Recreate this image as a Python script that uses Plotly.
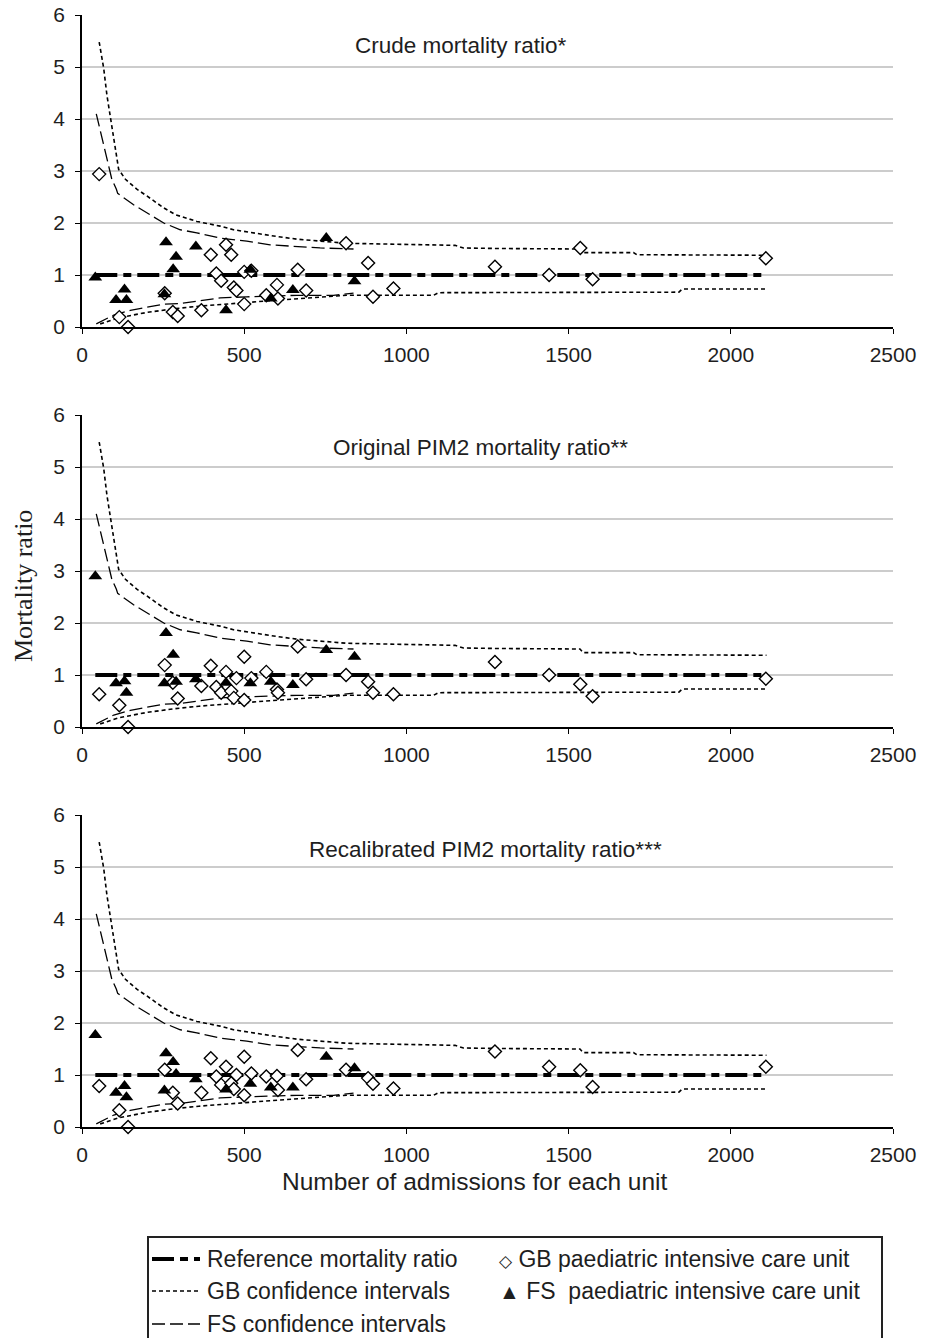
import plotly.graph_objects as go
from plotly.subplots import make_subplots

# ---------------- data ----------------
panel_titles = ["Crude mortality ratio*", "Original PIM2 mortality ratio**",
                "Recalibrated PIM2 mortality ratio***"]

gb_x = [53, 115, 142, 255, 280, 295, 368, 397, 414, 429, 444, 460, 468, 476, 500, 500,
        522, 568, 601, 604, 665, 691, 814, 882, 897, 960, 1273, 1440, 1536, 1574, 2108]
gb_crude = [2.94, 0.19, 0.0, 0.65, 0.29, 0.21, 0.32, 1.39, 1.03, 0.89, 1.58, 1.39, 0.76, 0.70,
            1.06, 0.44, 1.08, 0.61, 0.81, 0.55, 1.10, 0.70, 1.61, 1.23, 0.58, 0.74, 1.16, 1.0,
            1.52, 0.92, 1.32]
gb_orig = [0.63, 0.42, 0.0, 1.19, 0.85, 0.55, 0.79, 1.18, 0.77, 0.66, 1.06, 0.69, 0.56, 0.94,
           1.35, 0.52, 0.94, 1.06, 0.72, 0.66, 1.55, 0.92, 1.0, 0.87, 0.66, 0.63, 1.25, 1.0,
           0.82, 0.59, 0.93]
gb_recal = [0.79, 0.32, 0.0, 1.10, 0.66, 0.45, 0.66, 1.32, 0.97, 0.81, 1.16, 0.84, 0.73, 1.0,
            1.35, 0.61, 1.03, 0.97, 0.98, 0.71, 1.48, 0.92, 1.10, 0.94, 0.83, 0.74, 1.45, 1.16,
            1.09, 0.77, 1.16]

fs_x = [41, 105, 131, 137, 254, 259, 281, 290, 351, 444, 519, 582, 650, 753, 840]
fs_crude = [0.95, 0.52, 0.72, 0.52, 0.63, 1.63, 1.11, 1.35, 1.55, 0.32, 1.10, 0.55, 0.71, 1.71, 0.88]
fs_orig = [2.90, 0.84, 0.88, 0.66, 0.84, 1.81, 1.39, 0.87, 0.92, 0.85, 0.84, 0.87, 0.81, 1.48, 1.35]
fs_recal = [1.77, 0.66, 0.79, 0.57, 0.70, 1.42, 1.25, 1.02, 0.92, 0.72, 0.83, 0.76, 0.76, 1.35, 1.13]

gb_ci_up_x = [53, 67, 77, 87, 98, 113, 134, 169, 200, 252, 288, 354, 426, 467, 601, 662, 816,
              1022, 1150, 1176, 1279, 1535, 1545, 1700, 1710, 2110]
gb_ci_up_y = [5.48, 4.97, 4.45, 4.06, 3.55, 3.03, 2.84, 2.65, 2.52, 2.29, 2.16, 2.03, 1.94, 1.87,
              1.74, 1.69, 1.61, 1.58, 1.57, 1.52, 1.51, 1.50, 1.43, 1.43, 1.39, 1.38]
gb_ci_lo_x = [56, 115, 200, 282, 360, 478, 611, 816, 1084, 1099, 1840, 1850, 2110]
gb_ci_lo_y = [0.06, 0.18, 0.28, 0.35, 0.40, 0.45, 0.52, 0.61, 0.61, 0.66, 0.67, 0.73, 0.73]

fs_ci_up_x = [44, 67, 92, 106, 110, 159, 252, 303, 354, 426, 508, 580, 662, 734, 837]
fs_ci_up_y = [4.10, 3.48, 2.84, 2.65, 2.57, 2.35, 2.0, 1.87, 1.81, 1.71, 1.65, 1.58, 1.55, 1.52, 1.50]
fs_ci_lo_x = [44, 98, 149, 252, 303, 426, 508, 662, 775, 837]
fs_ci_lo_y = [0.06, 0.23, 0.32, 0.44, 0.45, 0.56, 0.58, 0.61, 0.61, 0.65]

ref_x = [41, 2110]
ref_y = [1, 1]

x_ticks = [0, 500, 1000, 1500, 2000, 2500]
y_ticks = [0, 1, 2, 3, 4, 5, 6]

# ---------------- figure ----------------
W, H = 930, 1338
SANS = "Liberation Sans, Arial, sans-serif"
SERIF = "Liberation Serif, Times New Roman, serif"
TXT = "#1e1e1e"

def px(x):
    return x / W

def py(y):
    return 1 - y / H

REF_DASH = "22px,6px,8px,6px"
GB_DASH = "4px,3px"
FS_DASH = "13px,5px"

fig = make_subplots(rows=3, cols=1)

gb_sets = [gb_crude, gb_orig, gb_recal]
fs_sets = [fs_crude, fs_orig, fs_recal]

for i in range(3):
    r = i + 1
    for xs, ys, dash, w in [(gb_ci_up_x, gb_ci_up_y, GB_DASH, 1.6),
                            (gb_ci_lo_x, gb_ci_lo_y, GB_DASH, 1.6),
                            (fs_ci_up_x, fs_ci_up_y, FS_DASH, 1.3),
                            (fs_ci_lo_x, fs_ci_lo_y, FS_DASH, 1.3)]:
        fig.add_trace(go.Scatter(x=xs, y=ys, mode="lines", showlegend=False,
                                 line=dict(color="black", width=w, dash=dash)), row=r, col=1)
    fig.add_trace(go.Scatter(x=ref_x, y=ref_y, mode="lines", showlegend=False,
                             line=dict(color="black", width=4, dash=REF_DASH)), row=r, col=1)
    fig.add_trace(go.Scatter(x=gb_x, y=gb_sets[i], mode="markers", showlegend=False,
                             cliponaxis=False,
                             marker=dict(symbol="diamond", size=10, color="white",
                                         line=dict(color="black", width=1.4))), row=r, col=1)
    fig.add_trace(go.Scatter(x=fs_x, y=fs_sets[i], mode="markers", showlegend=False,
                             cliponaxis=False,
                             marker=dict(symbol="triangle-up", size=12, color="black",
                                         line=dict(color="black", width=0))), row=r, col=1)

# panel pixel positions (top, bottom) and title positions (left x px, y value)
panels = [(15, 327), (415, 727), (815, 1127)]
title_left = [353, 331, 307]
title_y = [5.42, 5.38, 5.33]
for i, (top, bot) in enumerate(panels):
    sfx = "" if i == 0 else str(i + 1)
    fig.layout["xaxis" + sfx].update(
        domain=[px(82), px(893)], range=[0, 2500], tickvals=x_ticks,
        showline=True, linecolor="black", linewidth=1.5, ticks="outside", ticklen=5,
        tickcolor="black", tickwidth=1.2, showgrid=False, zeroline=False,
        ticklabelstandoff=3,
        tickfont=dict(family=SANS, size=21, color=TXT), automargin=False)
    fig.layout["yaxis" + sfx].update(
        domain=[py(bot), py(top)], range=[0, 6], tickvals=y_ticks,
        showline=True, linecolor="black", linewidth=1.5, ticks="outside", ticklen=5,
        tickcolor="black", tickwidth=1.2, showgrid=True, gridcolor="#cccccc", gridwidth=1.5,
        zeroline=False, ticklabelstandoff=6,
        tickfont=dict(family=SANS, size=21, color=TXT), automargin=False)
    fig.add_annotation(x=(title_left[i] - 82) / (893 - 82) * 2500, y=title_y[i],
                       xref="x" + sfx, yref="y" + sfx, xanchor="left", yanchor="middle",
                       text=panel_titles[i], showarrow=False,
                       font=dict(family=SANS, size=22.5, color=TXT))

# axis titles
fig.add_annotation(x=px(475), y=py(1181), xref="paper", yref="paper",
                   xanchor="center", yanchor="middle",
                   text="Number of admissions for each unit", showarrow=False,
                   font=dict(family=SANS, size=24.5, color=TXT))
fig.add_annotation(x=px(23), y=py(586), xref="paper", yref="paper",
                   xanchor="center", yanchor="middle",
                   text="Mortality ratio", showarrow=False, textangle=-90,
                   font=dict(family=SERIF, size=26, color=TXT))

# legend box
fig.add_shape(type="rect", xref="paper", yref="paper",
              x0=px(148), x1=px(882), y0=py(1360), y1=py(1237),
              line=dict(color="#222", width=2), fillcolor="rgba(0,0,0,0)")
leg_rows = [1259, 1291, 1324]
leg_lines = [(REF_DASH, 4), (GB_DASH, 1.3), (FS_DASH, 1.3)]
leg_text = ["Reference mortality ratio", "GB confidence intervals", "FS confidence intervals"]
for yy, (dash, w), t in zip(leg_rows, leg_lines, leg_text):
    fig.add_shape(type="line", xref="paper", yref="paper",
                  x0=px(152), x1=px(200), y0=py(yy), y1=py(yy),
                  line=dict(color="black", width=w, dash=dash))
    fig.add_annotation(x=px(205), y=py(yy), xref="paper", yref="paper",
                       xanchor="left", yanchor="middle",
                       text=t, showarrow=False, font=dict(family=SANS, size=23, color=TXT))
fig.add_annotation(x=px(497), y=py(leg_rows[0]), xref="paper", yref="paper",
                   xanchor="left", yanchor="middle",
                   text="<span style='font-size:17px'>\u25c7</span> GB paediatric intensive care unit",
                   showarrow=False, font=dict(family=SANS, size=23, color=TXT))
fig.add_annotation(x=px(497), y=py(leg_rows[1]), xref="paper", yref="paper",
                   xanchor="left", yanchor="middle",
                   text="<span style='font-size:21px'>\u25b2</span> FS \u00a0paediatric intensive care unit",
                   showarrow=False, font=dict(family=SANS, size=23, color=TXT))

fig.update_layout(width=W, height=H, margin=dict(l=0, r=0, t=0, b=0),
                  paper_bgcolor="white", plot_bgcolor="white", showlegend=False)

fig.write_html("out.html", config={"displayModeBar": False},
               post_script="document.body.style.margin='0px';document.body.style.overflow='hidden';")
